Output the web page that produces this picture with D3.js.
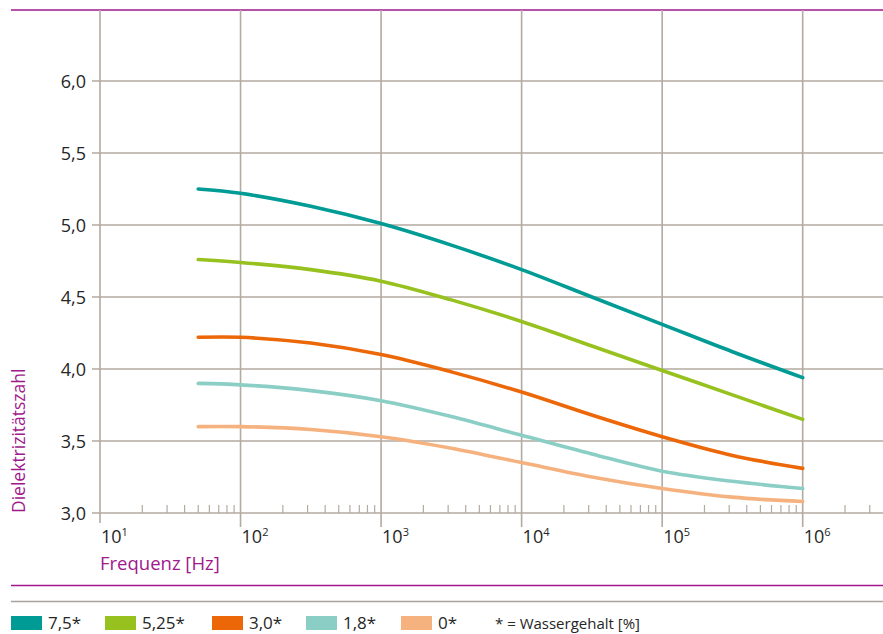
<!DOCTYPE html>
<html>
<head>
<meta charset="utf-8">
<script src="https://cdn.jsdelivr.net/npm/d3@7"></script>
<style>
  html, body { margin: 0; padding: 0; background: #fff; }
  svg { display: block; font-family: "Open Sans", "Noto Sans", sans-serif; }
</style>
</head>
<body>
<svg id="chart" width="883" height="634"></svg>
<script>
// Frequencies (Hz) at which the curves are sampled
const frequencies = [50, 100, 316, 1000, 3162, 10000, 31623, 100000, 316228, 1000000];

// Dielectric constant for each water content
const series75  = [5.25, 5.22, 5.13, 5.01, 4.86, 4.69, 4.50, 4.31, 4.12, 3.94];
const series525 = [4.76, 4.74, 4.69, 4.61, 4.48, 4.33, 4.16, 3.99, 3.82, 3.65];
const series30  = [4.22, 4.22, 4.18, 4.10, 3.98, 3.84, 3.68, 3.53, 3.40, 3.31];
const series18  = [3.90, 3.89, 3.85, 3.78, 3.67, 3.54, 3.41, 3.29, 3.22, 3.17];
const series0   = [3.60, 3.60, 3.58, 3.53, 3.45, 3.35, 3.25, 3.17, 3.11, 3.08];

const seriesLabels = ["7,5*", "5,25*", "3,0*", "1,8*", "0*"];
const seriesColors = ["#009b94", "#97c11f", "#ec6707", "#8bcec6", "#f5b27f"];
const seriesValues = [series75, series525, series30, series18, series0];

const yTicks = [3.0, 3.5, 4.0, 4.5, 5.0, 5.5, 6.0];
const xDecades = [1, 2, 3, 4, 5, 6];
const legendNote = "* = Wassergehalt [%]";

const magenta = "#a0198c";
const gridColor = "#b3aaa0";
const textColor = "#262626";

const svg = d3.select("#chart");

const x = d3.scaleLog().domain([10, 1e6]).range([100, 802.7]);
const y = d3.scaleLinear().domain([3, 6.5]).range([513, 9]);

const fmt = v => d3.format(".1f")(v).replace(".", ",");

// Top rule
svg.append("line").attr("x1", 11).attr("x2", 883).attr("y1", 10).attr("y2", 10)
  .attr("stroke", magenta).attr("stroke-width", 1.5);

// Horizontal grid lines with tick stubs on the left
const grid = svg.append("g");
grid.selectAll("line.h").data(yTicks).join("line")
  .attr("class", "h")
  .attr("x1", 92).attr("x2", 883)
  .attr("y1", d => y(d)).attr("y2", d => y(d))
  .attr("stroke", gridColor).attr("stroke-width", 1.6);

// Vertical decade lines, running below the axis as major ticks
grid.selectAll("line.v").data(xDecades.map(p => Math.pow(10, p))).join("line")
  .attr("class", "v")
  .attr("x1", d => x(d)).attr("x2", d => x(d))
  .attr("y1", 10).attr("y2", (d, i) => i === 0 ? 523 : 527)
  .attr("stroke", gridColor).attr("stroke-width", 1.6);

// Minor log ticks (2..9 of each decade), continuing past 10^6
const minor = [];
for (let p = 1; p <= 6; p++) {
  for (let m = 2; m <= 9; m++) {
    const v = m * Math.pow(10, p);
    if (x(v) < 878) minor.push(v);
  }
}
grid.selectAll("line.m").data(minor).join("line")
  .attr("class", "m")
  .attr("x1", d => x(d)).attr("x2", d => x(d))
  .attr("y1", 505).attr("y2", 513)
  .attr("stroke", gridColor).attr("stroke-width", 1.2);

// Y tick labels
svg.append("g").selectAll("text").data(yTicks).join("text")
  .attr("x", 86).attr("y", d => y(d) + 6.5)
  .attr("text-anchor", "end")
  .attr("font-size", 18).attr("fill", textColor)
  .text(d => fmt(d));

// X tick labels: 10 with superscript exponent
const xl = svg.append("g").selectAll("text").data(xDecades).join("text")
  .attr("x", d => x(Math.pow(10, d)) + 1)
  .attr("y", 543)
  .attr("font-size", 18).attr("fill", textColor);
xl.append("tspan").text("10");
xl.append("tspan").attr("font-size", 11).attr("dy", -7).text(d => String(d));

// Axis titles
svg.append("text").attr("x", 100).attr("y", 570)
  .attr("font-size", 18.5).attr("fill", magenta).text("Frequenz [Hz]");
svg.append("text")
  .attr("transform", "translate(25,513) rotate(-90)")
  .attr("font-size", 17.5).attr("fill", magenta).text("Dielektrizitätszahl");

// Curves
const line = d3.line()
  .x((d, i) => x(frequencies[i]))
  .y(d => y(d))
  .curve(d3.curveCatmullRom.alpha(0.5));

svg.append("g").selectAll("path").data(seriesValues).join("path")
  .attr("d", d => line(d))
  .attr("fill", "none")
  .attr("stroke", (d, i) => seriesColors[i])
  .attr("stroke-width", 3.6)
  .attr("stroke-linecap", "round")
  .attr("stroke-linejoin", "round");

// Bottom rules
svg.append("line").attr("x1", 11).attr("x2", 883).attr("y1", 585.5).attr("y2", 585.5)
  .attr("stroke", magenta).attr("stroke-width", 1.5);
svg.append("line").attr("x1", 11).attr("x2", 883).attr("y1", 601.5).attr("y2", 601.5)
  .attr("stroke", "#a9a29c").attr("stroke-width", 1.5);

// Legend
const legendX = [11, 105, 212, 306, 401];
const lg = svg.append("g").selectAll("g").data(seriesLabels).join("g")
  .attr("transform", (d, i) => `translate(${legendX[i]},0)`);
lg.append("rect").attr("x", 0).attr("y", 616).attr("width", 31).attr("height", 14)
  .attr("fill", (d, i) => seriesColors[i]);
lg.append("text").attr("x", 37).attr("y", 629)
  .attr("font-size", 17).attr("fill", textColor).text(d => d);
svg.append("text").attr("x", 495).attr("y", 629)
  .attr("font-size", 15).attr("fill", textColor).text(legendNote);
</script>
</body>
</html>
